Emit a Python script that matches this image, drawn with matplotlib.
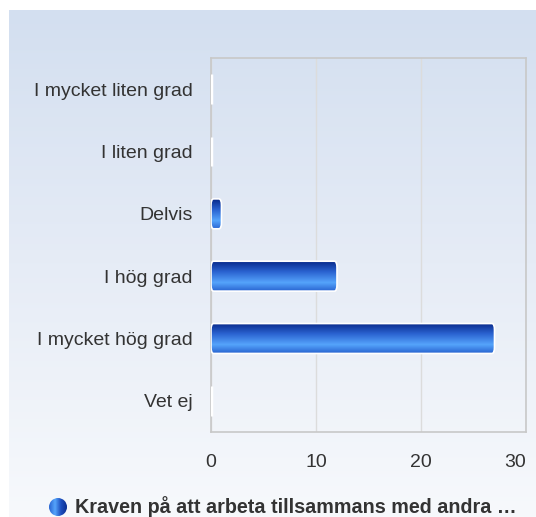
import numpy as np
import matplotlib.pyplot as plt
from matplotlib.colors import LinearSegmentedColormap
from matplotlib.patches import FancyBboxPatch, Circle

categories = ["I mycket liten grad", "I liten grad", "Delvis", "I hög grad",
              "I mycket hög grad", "Vet ej"]
values = [0, 0, 1, 12, 27, 0]
xticks = [0, 10, 20, 30]
legend_label = "Kraven på att arbeta tillsammans med andra …"

plt.rcParams["font.family"] = "Liberation Sans"

W, H = 536, 517
fig = plt.figure(figsize=(W / 100, H / 100), dpi=100)
fig.patch.set_facecolor("white")

# background panel with vertical gradient
bg = fig.add_axes([9 / W, 0, 1 - 9 / W, 1 - 10 / H])
bg.set_axis_off()
bg_cmap = LinearSegmentedColormap.from_list("bg", ["#d3dff0", "#e6ecf6", "#f7f9fc"])
bg.imshow(np.linspace(0, 1, 256).reshape(-1, 1), aspect="auto", cmap=bg_cmap,
          extent=[0, 1, 0, 1], origin="upper")
bg.set_xlim(0, 1)
bg.set_ylim(0, 1)

# plot area
x0, x1, y0, y1 = 211, 526, 58, 432
ax = fig.add_axes([x0 / W, 1 - y1 / H, (x1 - x0) / W, (y1 - y0) / H])
ax.patch.set_alpha(0)
for s in ax.spines.values():
    s.set_color("#c8c8c8")
    s.set_linewidth(1.2)
ax.set_xticks(xticks)
ax.set_xticklabels([str(t) for t in xticks])
ax.set_yticks(range(len(categories)))
ax.set_yticklabels(categories)
ax.tick_params(length=0, labelsize=14, colors="#333333")
ax.tick_params(axis="x", pad=16)
ax.tick_params(axis="y", pad=13)
ax.get_xticklabels()[-1].set_horizontalalignment("right")
ax.grid(axis="x", color="#dcdcdc", linewidth=1)
ax.set_axisbelow(True)

bar_cmap = LinearSegmentedColormap.from_list(
    "bar", [(0, "#08298a"), (0.35, "#2a62d0"), (0.72, "#55a4fb"), (1, "#2a66d2")])
grad = np.linspace(0, 1, 100).reshape(-1, 1)
bh = 0.48
for i, v in enumerate(values):
    if v == 0:
        ax.plot([0, 0], [i - bh / 2, i + bh / 2], color="white", lw=2.5, zorder=3,
                solid_capstyle="butt")
        continue
    patch = FancyBboxPatch((0, i - bh / 2), v, bh,
                           boxstyle="round,pad=0,rounding_size=0.25",
                           mutation_aspect=0.4, facecolor="none",
                           edgecolor="white", lw=1.2, zorder=4)
    ax.add_patch(patch)
    im = ax.imshow(grad, aspect="auto", cmap=bar_cmap,
                   extent=[0, v, i + bh / 2, i - bh / 2], origin="upper", zorder=3)
    im.set_clip_path(patch)
ax.set_xlim(0, 30)
ax.set_ylim(len(categories) - 0.5, -0.5)

# legend
lax = fig.add_axes([0, 0, 1, 1])
lax.set_axis_off()
circ = Circle((58, 507), 9, facecolor="none", edgecolor="none")
lax.add_patch(circ)
leg_cmap = LinearSegmentedColormap.from_list("leg", ["#2a66d2", "#55a4fb", "#1d4fbf", "#0c2f92"])
lim = lax.imshow(np.linspace(0, 1, 50).reshape(1, -1), cmap=leg_cmap, aspect="auto",
                 extent=[49, 67, 516, 498])
lim.set_clip_path(circ)
lax.set_xlim(0, W)
lax.set_ylim(H, 0)
lax.text(75, 507, legend_label, fontsize=14.2, fontweight="bold", color="#333333",
         va="center", ha="left")

fig.savefig("out.png", dpi=100)
